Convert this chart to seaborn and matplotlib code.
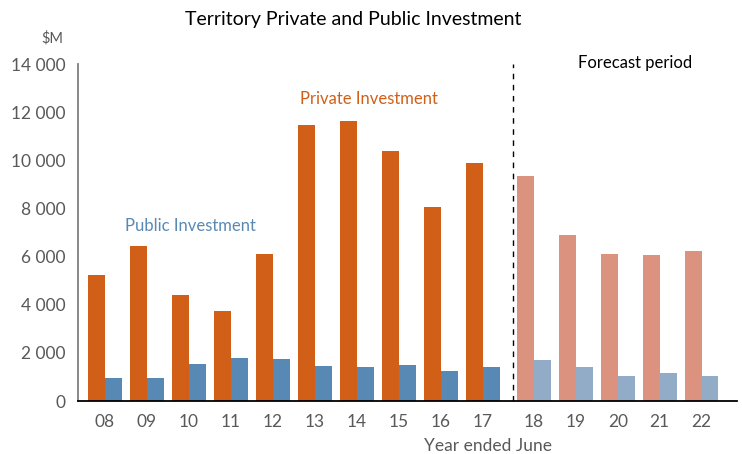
import matplotlib
matplotlib.use('Agg')
import matplotlib.pyplot as plt
import matplotlib.ticker as mticker
import numpy as np
import pandas as pd
import seaborn as sns

# Data (A$ million, year ended June)
years = ['08', '09', '10', '11', '12', '13', '14', '15', '16', '17',
         '18', '19', '20', '21', '22']
private = [5250, 6450, 4400, 3750, 6100, 11450, 11650, 10400, 8050, 9900,
           9350, 6900, 6100, 6050, 6250]
public = [950, 950, 1550, 1800, 1750, 1450, 1400, 1500, 1250, 1400,
          1700, 1400, 1050, 1150, 1050]
forecast_start = 10  # index of first forecast year ('18')

sns.set_theme(style='white')
plt.rcParams['font.family'] = ['Lato', 'DejaVu Sans']

GREY = '#595959'
ORANGE = '#D15F17'
BLUE = '#5889B5'
ORANGE_F = '#DB9380'
BLUE_F = '#92ABC6'

gap = 0.214
pos = np.arange(len(years)) + gap * (np.arange(len(years)) >= forecast_start)

df = pd.DataFrame({'year': years, 'pos': pos, 'Private': private, 'Public': public})
df['forecast'] = np.arange(len(years)) >= forecast_start
long = df.melt(id_vars=['year', 'pos', 'forecast'], value_vars=['Private', 'Public'],
               var_name='series', value_name='value')

fig = plt.figure(figsize=(7.42, 4.54), dpi=100)
ax = fig.add_axes([0.105, 0.1167, 0.888, 0.7423])

sns.barplot(data=long[~long['forecast']], x='pos', y='value', hue='series',
            native_scale=True, palette=[ORANGE, BLUE], width=0.8,
            saturation=1, legend=False, linewidth=0, edgecolor='none', ax=ax)
sns.barplot(data=long[long['forecast']], x='pos', y='value', hue='series',
            native_scale=True, palette=[ORANGE_F, BLUE_F], width=0.8,
            saturation=1, legend=False, linewidth=0, edgecolor='none', ax=ax)

ax.set_xlim(-0.643, 15.05)
ax.set_ylim(0, 14000)
ax.set_xticks(pos)
ax.set_xticklabels(years)
ax.set_yticks(np.arange(0, 14001, 2000))
ax.yaxis.set_major_formatter(mticker.FuncFormatter(
    lambda v, p: f'{int(v):,}'.replace(',', ' ')))
ax.tick_params(axis='both', length=0, labelsize=12.5, labelcolor=GREY, pad=9)
ax.set_xlabel('')
ax.set_ylabel('')

for s in ['top', 'right']:
    ax.spines[s].set_visible(False)
ax.spines['left'].set_color('#7f7f7f')
ax.spines['left'].set_linewidth(1.3)
ax.spines['bottom'].set_color('black')
ax.spines['bottom'].set_linewidth(1.3)

# forecast divider
ax.axvline(9.71, color='black', linestyle=(0, (4, 4)), linewidth=1)

ax.text(11.26, 14040, 'Forecast period', fontsize=12, color='black', va='center')
ax.text(4.64, 12545, 'Private Investment', fontsize=12, color=ORANGE, va='center')
ax.text(0.476, 7270, 'Public Investment', fontsize=12, color=BLUE, va='center')

fig.text(0.085, 0.916, '$M', fontsize=10.5, color=GREY, ha='right', va='center')
fig.text(0.476, 0.956, 'Territory Private and Public Investment', fontsize=14,
         color='black', ha='center', va='center')
fig.text(0.658, 0.018, 'Year ended June', fontsize=12.5, color=GREY, ha='center',
         va='center')

fig.savefig('out.png', dpi=100)
